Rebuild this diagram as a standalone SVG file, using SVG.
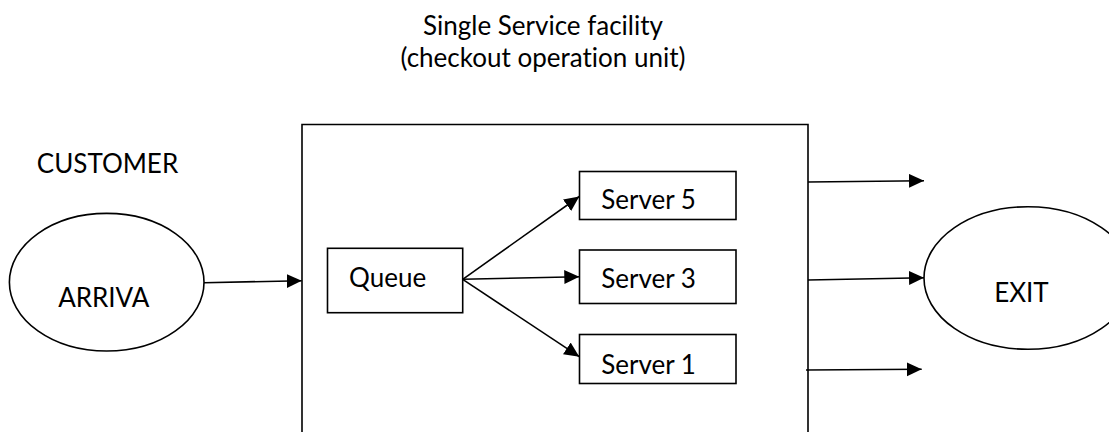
<svg xmlns="http://www.w3.org/2000/svg" width="1109" height="432" viewBox="0 0 1109 432">
  <style>
    .shape { fill: #fff; stroke: #000; stroke-width: 1.6; }
    .frame { fill: none; stroke: #000; stroke-width: 1.6; }
    .edge { fill: none; stroke: #000; stroke-width: 1.6; marker-end: url(#arrow); }
    text { font-family: Lato, "Open Sans", sans-serif; font-size: 26px; fill: #000; text-anchor: middle; font-variant-ligatures: none; font-feature-settings: "liga" 0, "clig" 0, "dlig" 0; }
  </style>
  <defs>
    <marker id="arrow" markerUnits="userSpaceOnUse" markerWidth="16" markerHeight="15" refX="15" refY="7" orient="auto">
      <path d="M0,0 L15,7 L0,14 Z" fill="#000"/>
    </marker>
  </defs>

  <rect width="1109" height="432" fill="#fff"/>

  <!-- heading -->
  <g id="title">
    <text x="543" y="35">Single Service facility</text>
    <text x="543" y="66.7">(checkout operation unit)</text>
  </g>

  <g id="customer-label">
    <text x="107.5" y="172.7">CUSTOMER</text>
  </g>

  <!-- service facility boundary (runs past the bottom edge) -->
  <g id="facility">
    <path class="frame" d="M302,450 V124.5 H808 V450"/>
  </g>

  <g id="arrival">
    <ellipse class="shape" cx="106.7" cy="282.2" rx="97.3" ry="68.8"/>
    <text x="103.8" y="306.7">ARRIVA</text>
  </g>

  <g id="queue">
    <rect class="shape" x="327.5" y="248.3" width="135.2" height="64.4"/>
    <text x="387.6" y="287">Queue</text>
  </g>

  <g id="server5">
    <rect class="shape" x="579.5" y="171.5" width="156.5" height="48"/>
    <text x="648.5" y="208.5">Server 5</text>
  </g>

  <g id="server3">
    <rect class="shape" x="579.5" y="250" width="156.5" height="53.5"/>
    <text x="648.5" y="288">Server 3</text>
  </g>

  <g id="server1">
    <rect class="shape" x="579.5" y="334.5" width="156.5" height="49"/>
    <text x="648.5" y="374">Server 1</text>
  </g>

  <g id="exit">
    <ellipse class="shape" cx="1028" cy="278" rx="104" ry="71.3"/>
    <text x="1021.4" y="301.7">EXIT</text>
  </g>

  <g id="connectors">
    <line class="edge" x1="204" y1="282.7" x2="301.7" y2="280.7"/>
    <line class="edge" x1="462.7" y1="279.3" x2="579.3" y2="196.5"/>
    <line class="edge" x1="462.7" y1="279.3" x2="579.3" y2="276.7"/>
    <line class="edge" x1="462.7" y1="279.3" x2="579.3" y2="356.7"/>
    <line class="edge" x1="808" y1="182" x2="924" y2="180.7"/>
    <line class="edge" x1="808" y1="280" x2="924" y2="277.7"/>
    <line class="edge" x1="806" y1="370" x2="921.7" y2="369.3"/>
  </g>
</svg>
